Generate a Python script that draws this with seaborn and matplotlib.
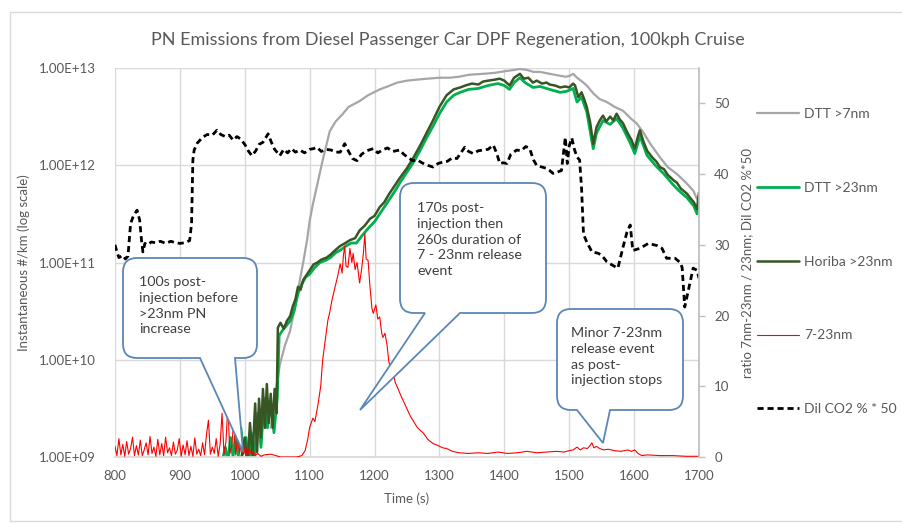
import matplotlib
matplotlib.use('Agg')
import matplotlib.pyplot as plt
import matplotlib.transforms as mtransforms
from matplotlib.path import Path
from matplotlib.patches import PathPatch, Rectangle
import seaborn as sns
import pandas as pd
import numpy as np

# ---- values ----
# left axis series, given as log10(#/km)
dtt7_t = [1040, 1046, 1054, 1062, 1070, 1076, 1083, 1090, 1096, 1100, 1105, 1111, 1120, 1131, 1140, 1150,
          1160, 1177, 1190, 1208, 1220, 1235, 1250, 1265, 1281, 1300, 1316, 1330, 1345, 1367, 1385,
          1404, 1415, 1424, 1435, 1445, 1455, 1470, 1486, 1495, 1501, 1506, 1512, 1520, 1527, 1537,
          1547, 1558, 1570, 1583, 1595, 1604, 1614, 1625, 1640, 1652, 1666, 1680, 1691, 1698]
dtt7_exp = [9.3, 9.6, 9.95, 10.15, 10.3, 10.5, 10.75, 11.0, 11.23, 11.43, 11.6, 11.78, 12.05, 12.35, 12.45, 12.52,
            12.6, 12.66, 12.72, 12.78, 12.81, 12.85, 12.87, 12.88, 12.89, 12.9, 12.9, 12.91, 12.93, 12.94, 12.95,
            12.97, 12.98, 12.99, 12.98, 12.96, 12.96, 12.94, 12.92, 12.91, 12.92, 12.94, 12.9, 12.86, 12.82, 12.74,
            12.68, 12.65, 12.6, 12.56, 12.48, 12.43, 12.34, 12.22, 12.08, 11.98, 11.91, 11.82, 11.74, 11.64]

dtt23_t = [965, 970, 974, 978, 982, 986, 990, 994, 998, 1002, 1006, 1010, 1015, 1020, 1025, 1030, 1035,
           1040, 1045, 1050, 1053, 1058, 1064, 1070, 1076, 1082, 1088, 1094, 1100, 1108, 1116, 1124, 1132,
           1140, 1148, 1156, 1164, 1172, 1180, 1190, 1200, 1210, 1220, 1230, 1240, 1250, 1260, 1270, 1280,
           1290, 1300, 1311, 1322, 1332, 1345, 1360, 1375, 1390, 1400, 1408, 1415, 1424, 1432, 1444, 1455,
           1465, 1475, 1486, 1496, 1506, 1512, 1519, 1527, 1537, 1542, 1552, 1563, 1573, 1583, 1596, 1601,
           1609, 1620, 1634, 1646, 1660, 1672, 1681, 1692, 1697, 1700]
dtt23_exp = [8.95, 9.1, 8.95, 9.2, 9.0, 9.25, 9.0, 9.3, 9.05, 9.2, 8.9, 9.25, 9.0, 9.45, 9.1, 9.6, 9.3,
             9.55, 9.25, 9.6, 10.25, 10.3, 10.35, 10.4, 10.5, 10.68, 10.78, 10.85, 10.88, 10.95, 11.0, 11.02, 11.05,
             11.1, 11.13, 11.17, 11.2, 11.2, 11.27, 11.35, 11.42, 11.52, 11.62, 11.72, 11.83, 11.93, 12.03, 12.15, 12.28,
             12.4, 12.53, 12.65, 12.72, 12.75, 12.78, 12.79, 12.82, 12.84, 12.82, 12.78, 12.85, 12.9, 12.85, 12.8, 12.81,
             12.79, 12.77, 12.75, 12.76, 12.79, 12.65, 12.7, 12.55, 12.17, 12.33, 12.46, 12.42, 12.48, 12.38, 12.2, 12.12,
             12.3, 12.1, 11.99, 11.91, 11.8, 11.72, 11.67, 11.58, 11.5, 11.68]

horiba_t = [995, 1000, 1004, 1008, 1012, 1016, 1019, 1022, 1025, 1028, 1031, 1034, 1037, 1040, 1043, 1046,
            1049, 1051, 1055, 1060, 1065, 1070, 1074, 1078, 1082, 1086, 1090, 1096, 1100, 1106, 1112, 1118,
            1126, 1132, 1140, 1147, 1155, 1162, 1170, 1177, 1185, 1193, 1200, 1208, 1215, 1222, 1230,
            1239, 1250, 1260, 1270, 1280, 1290, 1300, 1311, 1322, 1332, 1340, 1350, 1360, 1367, 1375, 1385,
            1393, 1400, 1408, 1415, 1424, 1430, 1437, 1444, 1450, 1458, 1465, 1470, 1478, 1486, 1494, 1500,
            1506, 1509, 1514, 1519, 1523, 1527, 1532, 1537, 1542, 1547, 1552, 1557, 1563, 1568, 1573, 1578,
            1583, 1590, 1596, 1601, 1606, 1609, 1614, 1620, 1628, 1634, 1640, 1646, 1652, 1660, 1666, 1672,
            1681, 1687, 1692, 1697, 1700]
horiba_exp = [9.0, 9.2, 8.9, 9.35, 9.0, 9.55, 9.05, 9.6, 9.2, 9.7, 9.3, 9.75, 9.35, 9.65, 9.3, 9.7,
              9.45, 10.33, 10.38, 10.32, 10.4, 10.45, 10.55, 10.62, 10.75, 10.72, 10.82, 10.88, 10.92, 10.98, 11.0, 11.03,
              11.05, 11.08, 11.13, 11.17, 11.2, 11.23, 11.25, 11.33, 11.38, 11.45, 11.48, 11.57, 11.62, 11.7, 11.78,
              11.87, 11.97, 12.08, 12.2, 12.33, 12.46, 12.6, 12.72, 12.78, 12.8, 12.82, 12.84, 12.83, 12.86, 12.87, 12.88,
              12.89, 12.87, 12.82, 12.9, 12.94, 12.89, 12.9, 12.85, 12.87, 12.84, 12.85, 12.83, 12.82, 12.8, 12.81, 12.8,
              12.84, 12.82, 12.7, 12.75, 12.68, 12.6, 12.45, 12.22, 12.39, 12.46, 12.51, 12.45, 12.5, 12.46, 12.53, 12.47,
              12.43, 12.33, 12.26, 12.17, 12.3, 12.36, 12.25, 12.15, 12.08, 12.04, 11.98, 11.96, 11.9, 11.85, 11.82, 11.76,
              11.71, 11.66, 11.62, 11.55, 11.72]

# right axis series
red_noise_t = list(range(800, 1013, 3))
red_noise = [1.5, 0.2, 2.6, 0.3, 1.8, 0.1, 2.2, 0.4, 1.2, 2.8,
             0.2, 1.6, 0.3, 2.4, 0.2, 1.0, 2.0, 0.3, 2.9, 0.5,
             1.4, 0.1, 2.5, 0.3, 1.9, 0.2, 2.8, 0.6, 1.3, 0.2,
             2.1, 0.4, 1.0, 2.6, 0.1, 1.7, 0.3, 2.3, 0.2, 1.5,
             0.1, 2.7, 0.4, 1.1, 0.2, 2.0, 0.3, 3.2, 5.2, 0.4,
             1.4, 0.5, 2.6, 0.1, 1.8, 6.2, 0.4, 2.2, 7.3, 0.5,
             1.6, 5.2, 0.3, 2.8, 0.6, 2.0, 0.3, 1.5, 0.2, 1.2,
             0.4]
red_t = [1013, 1016, 1020, 1025, 1030, 1040, 1048, 1055, 1080, 1088, 1093, 1097, 1100, 1105, 1108, 1113,
         1117, 1120, 1124, 1128, 1131, 1134, 1139, 1143, 1147, 1150, 1152, 1154, 1156, 1159, 1162,
         1165, 1167, 1170, 1173, 1177, 1180, 1183, 1185, 1187, 1190, 1193, 1196, 1198, 1202, 1205, 1208,
         1211, 1213, 1216, 1219, 1222, 1224, 1228, 1232, 1235, 1240, 1244, 1250, 1255, 1259, 1265, 1270,
         1275, 1282, 1290, 1296, 1305, 1311, 1320, 1330, 1345, 1360, 1375, 1390, 1405, 1420, 1435, 1450,
         1465, 1480, 1492, 1500, 1506, 1512, 1517, 1522, 1528, 1532, 1535, 1538, 1542, 1547, 1553, 1560,
         1570, 1580, 1590, 1596, 1601, 1606, 1612, 1620, 1640, 1660, 1680, 1700]
red_v = [0.8, 0.2, 0.5, 0.1, 0.3, 0.4, 0.2, 0.0, 0.0, 0.2, 0.9, 2.5, 4.2, 5.5, 5.0, 7.5,
         10.0, 13.7, 16.5, 19.3, 20.5, 22.0, 24.0, 25.5, 27.3, 26.0, 28.5, 29.8, 27.0, 26.8, 29.5,
         27.5, 28.8, 26.5, 27.5, 24.6, 26.5, 29.0, 31.6, 28.0, 27.8, 24.0, 21.0, 20.3, 21.5, 19.5, 19.8,
         17.5, 16.9, 17.5, 16.0, 13.5, 12.7, 12.2, 10.5, 9.9, 8.8, 8.0, 6.8, 5.8, 5.2, 4.3, 3.8,
         3.4, 2.5, 1.9, 1.7, 1.3, 1.2, 0.8, 0.6, 0.5, 0.6, 0.5, 0.7, 0.5, 0.6, 0.8, 0.6,
         0.7, 0.8, 0.7, 0.9, 1.0, 1.4, 1.0, 1.3, 1.2, 1.6, 2.0, 1.3, 1.5, 1.2, 1.0, 1.1,
         0.9, 0.8, 1.0, 0.8, 1.0, 0.5, 0.2, 0.3, 0.2, 0.2, 0.1, 0.1]

co2_t = [800, 803, 806, 812, 816, 820, 824, 828, 834, 838, 841, 843, 846, 850, 856, 862, 870, 878, 886,
         893, 900, 908, 915, 918, 920, 922, 927, 935, 942, 950, 957, 963, 970, 976, 982, 988, 993, 1000,
         1006, 1011, 1017, 1022, 1028, 1036, 1041, 1046, 1054, 1060, 1066, 1072, 1078, 1085, 1092, 1100,
         1106, 1111, 1118, 1125, 1133, 1140, 1147, 1154, 1160, 1166, 1173, 1180, 1188, 1198, 1205, 1212,
         1220, 1228, 1239, 1245, 1252, 1259, 1266, 1273, 1280, 1290, 1298, 1305, 1312, 1320, 1327, 1333,
         1339, 1345, 1352, 1360, 1367, 1375, 1383, 1388, 1393, 1398, 1404, 1410, 1419, 1426, 1433, 1439,
         1445, 1450, 1458, 1465, 1470, 1475, 1482, 1488, 1494, 1497, 1500, 1504, 1508, 1512, 1516, 1519,
         1522, 1527, 1535, 1545, 1552, 1558, 1567, 1575, 1583, 1589, 1594, 1598, 1609, 1622, 1635, 1643,
         1650, 1663, 1671, 1674, 1678, 1686, 1691, 1697, 1700]
co2_v = [30.0, 29.0, 28.2, 28.5, 28.0, 28.4, 33.0, 34.0, 34.9, 33.5, 30.5, 29.0, 30.2, 30.0, 30.4, 30.3, 30.5, 30.2, 30.5,
         30.3, 30.2, 30.3, 30.6, 33.0, 42.0, 43.4, 44.4, 45.2, 45.6, 45.5, 46.2, 45.6, 45.3, 45.5, 44.8, 45.3, 45.0, 44.2,
         43.2, 42.6, 43.3, 44.2, 44.5, 45.7, 44.5, 43.5, 42.6, 43.5, 43.0, 43.6, 43.1, 43.4, 43.0, 43.5,
         43.6, 43.8, 43.2, 43.5, 43.4, 43.1, 43.1, 44.3, 43.2, 42.2, 41.9, 42.8, 43.3, 43.6, 43.0, 43.4,
         43.7, 43.2, 43.4, 42.8, 42.3, 41.9, 42.0, 41.6, 41.3, 41.0, 41.5, 41.7, 41.8, 42.3, 42.2, 43.0,
         43.8, 43.2, 42.9, 43.3, 43.4, 43.5, 44.1, 43.0, 41.5, 41.6, 41.5, 42.8, 43.4, 43.3, 43.9, 43.6,
         42.0, 41.2, 41.0, 40.8, 40.5, 40.1, 40.3, 40.5, 45.2, 41.5, 44.0, 45.1, 43.5, 42.4, 42.0, 38.0,
         31.5, 30.4, 29.0, 28.8, 28.3, 27.6, 27.1, 26.7, 29.7, 31.8, 32.8, 29.2, 29.5, 30.2, 29.9, 29.5,
         28.1, 28.1, 27.5, 26.8, 21.2, 24.6, 26.7, 26.4, 25.3]

series_names = ['DTT >7nm', 'DTT >23nm', 'Horiba >23nm', '7-23nm', 'Dil CO2 % * 50']
x_ticks = [800, 900, 1000, 1100, 1200, 1300, 1400, 1500, 1600, 1700]
left_ticks = [1e9, 1e10, 1e11, 1e12, 1e13]
left_tick_labels = ['1.00E+09', '1.00E+10', '1.00E+11', '1.00E+12', '1.00E+13']
right_ticks = [0, 10, 20, 30, 40, 50]

title = 'PN Emissions from Diesel Passenger Car DPF Regeneration, 100kph Cruise'
callout_texts = ['100s post-\ninjection before\n>23nm PN\nincrease',
                 '170s post-\ninjection then\n260s duration of\n7 - 23nm release\nevent',
                 'Minor 7-23nm\nrelease event\nas post-\ninjection stops']

dtt7 = pd.DataFrame({'t': dtt7_t, 'pn': np.power(10.0, dtt7_exp)})
dtt23 = pd.DataFrame({'t': dtt23_t, 'pn': np.power(10.0, dtt23_exp)})
horiba = pd.DataFrame({'t': horiba_t, 'pn': np.power(10.0, horiba_exp)})
red = pd.DataFrame({'t': red_noise_t + red_t, 'v': red_noise + red_v})
co2 = pd.DataFrame({'t': co2_t, 'v': co2_v})

sns.set_theme(style='white')
plt.rcParams['font.family'] = ['Lato', 'DejaVu Sans']
txt = '#595959'
grid = '#D9D9D9'

fig = plt.figure(figsize=(9.02, 5.23), dpi=100)
# reference pixel coords (origin top-left) -> display
px = mtransforms.Affine2D().scale(1 / 100, -1 / 100).translate(0, 5.23) + fig.dpi_scale_trans

ax = fig.add_axes([115 / 902, 1 - 457 / 523, 584 / 902, 389 / 523])
ax2 = ax.twinx()

ax.set_yscale('log')
sns.lineplot(data=dtt7, x='t', y='pn', ax=ax, color='#A6A6A6', lw=1.6, label=series_names[0], estimator=None)
sns.lineplot(data=dtt23, x='t', y='pn', ax=ax, color='#00B050', lw=2.0, label=series_names[1], estimator=None)
sns.lineplot(data=horiba, x='t', y='pn', ax=ax, color='#375623', lw=1.8, label=series_names[2], estimator=None)
sns.lineplot(data=red, x='t', y='v', ax=ax2, color='#FF0000', lw=0.8, label=series_names[3], estimator=None)
sns.lineplot(data=co2, x='t', y='v', ax=ax2, color='black', lw=2.0, label=series_names[4], estimator=None)
ax2.lines[-1].set_dashes([2.2, 1.4])

ax.set_xlim(800, 1700)
ax.set_ylim(1e9, 1e13)
ax2.set_ylim(0, 55)

ax.set_xticks(x_ticks)
ax.set_xticklabels([str(v) for v in x_ticks])
ax.set_yticks(left_ticks)
ax.set_yticklabels(left_tick_labels)
ax.yaxis.set_minor_locator(matplotlib.ticker.NullLocator())
ax2.set_yticks(right_ticks)
ax2.set_yticklabels([str(v) for v in right_ticks])

ax.grid(True, which='major', color=grid, lw=1)
ax.tick_params(axis='both', length=0, labelsize=9.5, labelcolor=txt)
ax.tick_params(axis='x', pad=9)
ax.tick_params(axis='y', pad=14)
ax2.tick_params(axis='y', length=4, width=1, color='#BFBFBF', direction='out', pad=7,
                labelsize=9.5, labelcolor=txt)
for s in ['left', 'top']:
    ax.spines[s].set_visible(False)
    ax2.spines[s].set_visible(False)
ax.spines['right'].set_visible(False)
ax.spines['bottom'].set_color(grid)
ax2.spines['bottom'].set_visible(False)
ax2.spines['right'].set_color('#BFBFBF')

ax.set_xlabel('Time (s)', fontsize=9.5, color=txt, labelpad=8)
ax.set_ylabel('Instantaneous #/km (log scale)', fontsize=9.5, color=txt, labelpad=6)
ax2.set_ylabel('ratio 7nm-23nm / 23nm; Dil CO2 %*50', fontsize=9.5, color=txt, labelpad=8)

# legend outside on the right
h1, l1 = ax.get_legend_handles_labels()
h2, l2 = ax2.get_legend_handles_labels()
for a in (ax, ax2):
    if a.get_legend() is not None:
        a.get_legend().remove()
leg = fig.legend(h1 + h2, l1 + l2, loc='upper left', bbox_to_anchor=(757 / 902, 1 - 108 / 523),
                 frameon=False, fontsize=10, labelspacing=4.45, handlelength=3.0,
                 handletextpad=0.4, borderpad=0, borderaxespad=0)
for t in leg.get_texts():
    t.set_color(txt)

fig.text(448 / 902, 1 - 40 / 523, title, ha='center', va='center', fontsize=13, color=txt)

# callout bubbles (geometry in reference pixels)
callouts = [
    dict(box=(123, 257, 258, 358), base=(200, 235), tip=(243, 452), text=(139, 276)),
    dict(box=(400, 546, 183, 313), base=(425, 460), tip=(360, 410), text=(417, 202)),
    dict(box=(557, 683, 309, 410), base=(577, 610), tip=(603, 443), text=(571, 327)),
]
rr = 14
for c, label in zip(callouts, callout_texts):
    L, R, T, B = c['box']
    a, b = c['base']
    tx, ty = c['tip']
    verts = [(L + rr, T), (R - rr, T), (R, T), (R, T + rr), (R, B - rr), (R, B), (R - rr, B),
             (b, B), (tx, ty), (a, B), (L + rr, B), (L, B), (L, B - rr), (L, T + rr), (L, T),
             (L + rr, T), (L + rr, T)]
    codes = [Path.MOVETO, Path.LINETO, Path.CURVE3, Path.CURVE3, Path.LINETO, Path.CURVE3, Path.CURVE3,
             Path.LINETO, Path.LINETO, Path.LINETO, Path.LINETO, Path.CURVE3, Path.CURVE3, Path.LINETO,
             Path.CURVE3, Path.CURVE3, Path.CLOSEPOLY]
    patch = PathPatch(Path(verts, codes), facecolor='white', edgecolor='#5B87B5', lw=1.3,
                      transform=px, zorder=10)
    fig.add_artist(patch)
    fig.text(c['text'][0], c['text'][1], label, transform=px, ha='left', va='top',
             fontsize=10.25, color='#404040', linespacing=1.38, zorder=11)

fig.add_artist(Rectangle((10, 12), 900, 509, transform=px, fill=False, edgecolor=grid, lw=1))

fig.savefig('out.png', dpi=100)
